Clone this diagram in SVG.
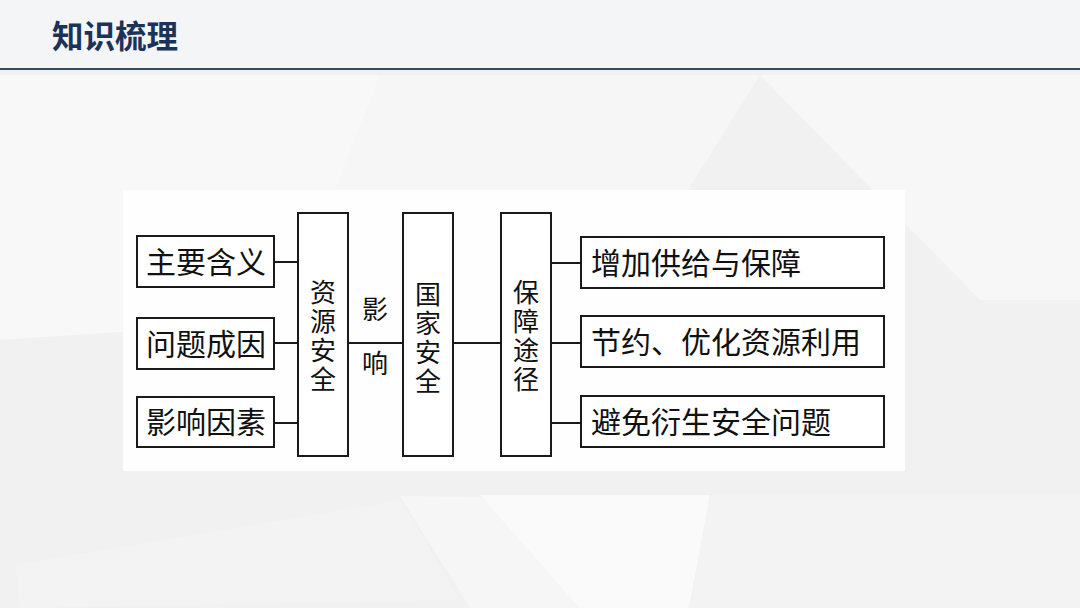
<svg xmlns="http://www.w3.org/2000/svg" width="1080" height="608" viewBox="0 0 1080 608">
<style>
.box{fill:#ffffff;stroke:#1a1a1a;stroke-width:2}
.t{font-family:"Noto Sans CJK SC","Noto Sans CJK JP",sans-serif;font-size:30px;fill:#111111}
.v{font-family:"Noto Sans CJK SC","Noto Sans CJK JP",sans-serif;font-size:26px;fill:#111111;text-anchor:middle}
.vt{writing-mode:tb;letter-spacing:3px}
.c{stroke:#1a1a1a;stroke-width:2;fill:none}
</style>
<rect x="0" y="0" width="1080" height="608" fill="#f1f1f2"/>
<g id="background" fill="#f8f8f8">
<polygon points="0,0 1080,0 1080,69 0,69" fill="#f4f5f6"/>
<polygon points="0,75 380,75 300,320 0,340"/>
<polygon points="380,75 760,75 600,330 280,330" fill="#f6f6f6"/>
<polygon points="760,75 1080,75 1080,300 980,300" fill="#f7f7f7"/>
<polygon points="15,565 400,500 460,600 20,608" fill="#f3f3f3"/>
<polygon points="400,496 700,500 660,608 470,608" fill="#f6f6f6"/>
<polygon points="480,495 710,495 670,710" fill="#fafafa"/>
<polygon points="710,495 1080,495 1080,608 690,608" fill="#f3f3f3"/>
</g>
<g id="header">
<text x="52" y="48" font-family="'Noto Sans CJK SC','Noto Sans CJK JP',sans-serif" font-size="31.5" font-weight="bold" fill="#1b3358">知识梳理</text>
<line x1="0" y1="69" x2="1080" y2="69" stroke="#34495a" stroke-width="2"/>
</g>
<rect id="panel" x="123" y="190" width="782" height="281" fill="#fefefe"/>
<g id="connectors">
<line class="c" x1="274" y1="262" x2="298" y2="262"/>
<line class="c" x1="274" y1="343" x2="298" y2="343"/>
<line class="c" x1="274" y1="423" x2="298" y2="423"/>
<line class="c" x1="348" y1="343" x2="403" y2="343"/>
<line class="c" x1="453" y1="343" x2="501" y2="343"/>
<line class="c" x1="551" y1="263" x2="581" y2="263"/>
<line class="c" x1="551" y1="343" x2="581" y2="343"/>
<line class="c" x1="551" y1="423" x2="581" y2="423"/>
<text class="v" x="375" y="319">影</text>
<text class="v" x="375" y="373">响</text>
</g>
<g id="n-zhuyao"><rect class="box" x="137" y="236" width="137" height="51"/><text class="t" x="146" y="273">主要含义</text></g>
<g id="n-wenti"><rect class="box" x="137" y="318" width="137" height="51"/><text class="t" x="146" y="355">问题成因</text></g>
<g id="n-yingxiang"><rect class="box" x="137" y="397" width="137" height="50"/><text class="t" x="146" y="433">影响因素</text></g>
<g id="n-ziyuan"><rect class="box" x="298" y="213" width="50" height="243"/>
<text class="v vt" x="323" y="337">资源安全</text></g>
<g id="n-guojia"><rect class="box" x="403" y="213" width="50" height="243"/>
<text class="v vt" x="428" y="339">国家安全</text></g>
<g id="n-baozhang"><rect class="box" x="501" y="213" width="50" height="243"/>
<text class="v vt" x="526" y="337">保障途径</text></g>
<g id="n-zengjia"><rect class="box" x="581" y="237" width="303" height="51"/><text class="t" x="591" y="274">增加供给与保障</text></g>
<g id="n-jieyue"><rect class="box" x="581" y="316" width="303" height="51"/><text class="t" x="591" y="353">节约、优化资源利用</text></g>
<g id="n-bimian"><rect class="box" x="581" y="396" width="303" height="51"/><text class="t" x="591" y="433">避免衍生安全问题</text></g>
</svg>
